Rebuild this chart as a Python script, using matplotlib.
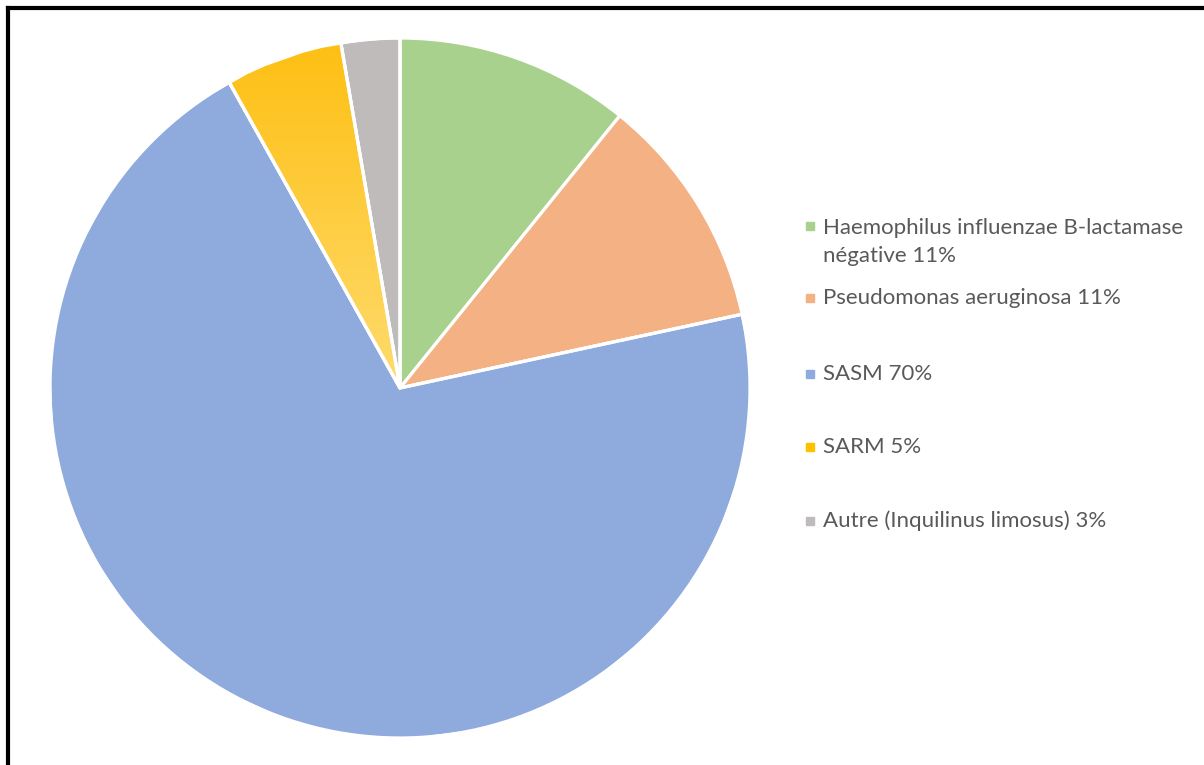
import matplotlib.pyplot as plt
import numpy as np
from matplotlib.patches import Rectangle
from matplotlib.lines import Line2D
from matplotlib.colors import LinearSegmentedColormap

plt.rcParams['font.family'] = ['Lato', 'DejaVu Sans']

names = ['Haemophilus influenzae B-lactamase\nnégative', 'Pseudomonas aeruginosa', 'SASM', 'SARM',
         'Autre (Inquilinus limosus)']
counts = [4, 4, 26, 2, 1]
colors = ['#A9D18E', '#F4B183', '#8FAADC', '#FFC000', '#BFBBBB']

W, H = 1204, 765
fig = plt.figure(figsize=(W / 100, H / 100), dpi=100)

# pie axes: centre (400, 388), radius 350 px
cx, cy, r = 400, 388, 350
ax = fig.add_axes([(cx - r) / W, (H - cy - r) / H, 2 * r / W, 2 * r / H])
wedges, _ = ax.pie(counts, colors=colors, startangle=90, counterclock=False, radius=1,
                   wedgeprops=dict(edgecolor='white', linewidth=2.3))

# vertical gradient on the SARM wedge (darker at the top)
ywedge = wedges[3]
grad = np.linspace(0, 1, 256).reshape(-1, 1)
cmap = LinearSegmentedColormap.from_list('sarm', ['#FDBF12', '#FFDB6E'])
im = ax.imshow(grad, cmap=cmap, extent=[-1, 1, 0, 1], aspect='auto', zorder=ywedge.get_zorder() + 0.1)
im.set_clip_path(ywedge)
ax.set_xlim(-1, 1)
ax.set_ylim(-1, 1)
ax.set_aspect('equal')
ax.axis('off')
# redraw the white borders on top of the gradient
for w in wedges[2:5]:
    ax.add_patch(plt.Polygon(w.get_path().vertices, closed=True, transform=w.get_transform(),
                             fill=False, edgecolor='white', linewidth=2.3, zorder=5))

# legend
total = sum(counts)
legend_y = [226, 298, 374, 447, 521]
for name, n, c, y in zip(names, counts, colors, legend_y):
    pct = round(100 * n / total)
    fig.patches.append(Rectangle((806 / W, (H - y - 4) / H), 8 / W, 8 / H,
                                 transform=fig.transFigure, color=c))
    multi = '\n' in name
    ty = y - 8 if multi else y
    fig.text(823 / W, (H - ty) / H, f'{name} {pct}%', fontsize=16, color='#595959',
             va='top' if multi else 'center', ha='left', linespacing=1.5,
             transform=fig.transFigure)

# frame
fig.lines.append(Line2D([8 / W, 8 / W], [0, (H - 8) / H], transform=fig.transFigure, color='black', lw=3))
fig.lines.append(Line2D([8 / W, 1], [(H - 8) / H, (H - 8) / H], transform=fig.transFigure, color='black', lw=3))

fig.savefig('out.png', dpi=100, facecolor='white')
